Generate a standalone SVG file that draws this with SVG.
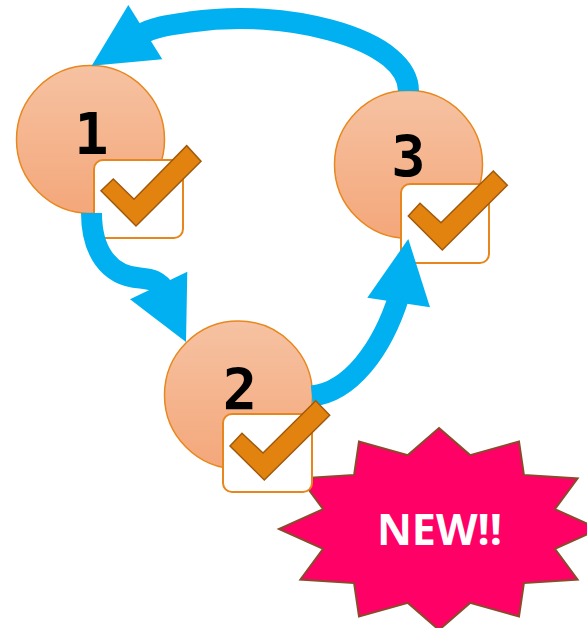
<svg xmlns="http://www.w3.org/2000/svg" width="587" height="628" viewBox="0 0 587 628">
  <defs>
    <linearGradient id="peach" x1="0" y1="0" x2="0" y2="1">
      <stop offset="0" stop-color="#F6C2A2"/>
      <stop offset="1" stop-color="#F4A77A"/>
    </linearGradient>
    <style>
      .circ { fill: url(#peach); stroke: #E8871E; stroke-width: 1.5; }
      .box { fill: #FFFFFF; stroke: #E6861C; stroke-width: 2; }
      .check { fill: #E3830F; stroke: #A0590C; stroke-width: 1.5; stroke-linejoin: miter; }
      .num { font-family: "DejaVu Sans Mono", "Liberation Mono", monospace; font-weight: bold; font-size: 57px; fill: #000000; text-anchor: middle; }
      .shaft { fill: none; stroke: #00B0F0; stroke-width: 21; stroke-linecap: butt; }
      .head { fill: #00B0F0; stroke: none; }
      .star { fill: #FF0066; stroke: #8B4A2B; stroke-width: 2; stroke-linejoin: miter; }
      .newtxt { font-family: "Open Sans", "Noto Sans", "Liberation Sans", sans-serif; font-weight: bold; font-size: 43px; fill: #FFFFFF; text-anchor: middle; }
    </style>
  </defs>

  <g id="badge-new">
    <polygon class="star" points="439,428 470.1,455.1 519,441.5 523.9,474.9 577.6,478.5 554.9,509.2 599,529 554.9,548.8 577.6,579.5 523.9,583.1 519,616.5 470.1,602.9 439,630 407.9,602.9 359,616.5 354.1,583.1 300.4,579.5 323.1,548.8 279,529 323.1,509.2 300.4,478.5 354.1,474.9 359,441.5 407.9,455.1"/>
    <text class="newtxt" x="439.5" y="545">NEW!!</text>
  </g>

  <g id="node-1">
    <circle class="circ" cx="90.5" cy="139.5" r="74"/>
    <text class="num" x="91.5" y="154">1</text>
    <rect class="box" x="94" y="160" width="89" height="78" rx="9"/>
  </g>
  <g id="node-2">
    <circle class="circ" cx="238.5" cy="395" r="74"/>
    <text class="num" x="240" y="410">2</text>
    <rect class="box" x="223" y="414" width="89" height="78" rx="9"/>
  </g>
  <g id="node-3">
    <circle class="circ" cx="408.5" cy="164.5" r="74"/>
    <text class="num" x="408.5" y="177">3</text>
    <rect class="box" x="401" y="184" width="88" height="79" rx="9"/>
  </g>

  <g id="connectors">
    <g id="edge-1-2">
      <path class="shaft" d="M91.5,213 C91.5,250 108,276 140,278 C152,279 159,281 166,292"/>
      <polygon class="head" points="187.3,271.7 186,342 130,299.3"/>
    </g>
    <g id="edge-2-3">
      <path class="shaft" d="M312,396 C350,392 382,350 399,296"/>
      <polygon class="head" points="408.3,239 430,307.3 367.3,297.7"/>
    </g>
    <g id="edge-3-1">
      <path class="shaft" d="M408.5,91 C408.5,68 385,45 330,30 C290,19 240,15 190,22 C170,24.8 152.7,27 140,35"/>
      <polygon class="head" points="91.7,65.7 128.3,5 162.3,59.3"/>
    </g>
  </g>

  <g id="checks">
    <polygon id="check-1" class="check" points="101,190.7 113.3,179 134,199.3 186.7,145.7 201,161.3 136,226"/>
    <polygon id="check-2" class="check" points="230,446 242,433.3 263,453 315.7,400.7 329.7,415.3 264.3,480"/>
    <polygon id="check-3" class="check" points="408.3,216 420,203.3 441,222.7 493.3,171 507.3,185.3 442.3,250"/>
  </g>
</svg>
